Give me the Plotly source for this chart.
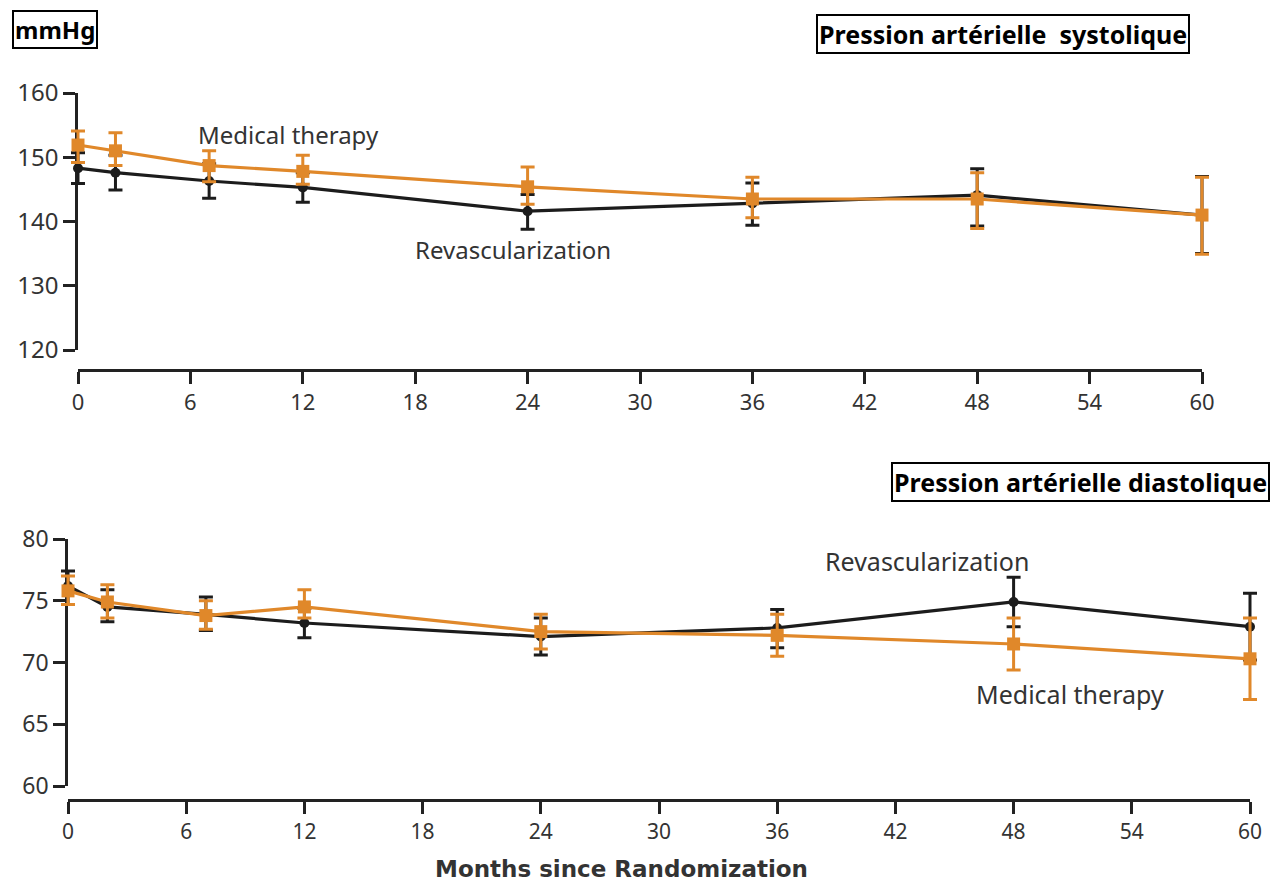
import plotly.graph_objects as go

W, H = 1285, 883

# ---------------- data ----------------
months = [0, 2, 7, 12, 24, 36, 48, 60]

# Systolic (mmHg)
sys_revasc = [148.3, 147.6, 146.3, 145.3, 141.6, 142.8, 144.1, 141.0]
sys_revasc_hi = [150.7, 150.3, 149.0, 147.6, 144.2, 146.0, 148.2, 147.0]
sys_revasc_lo = [145.9, 144.9, 143.6, 143.0, 138.8, 139.4, 139.3, 135.0]

sys_med = [151.9, 151.0, 148.7, 147.8, 145.4, 143.5, 143.5, 141.0]
sys_med_hi = [154.1, 153.8, 151.0, 150.3, 148.5, 146.9, 147.6, 146.9]
sys_med_lo = [149.2, 148.7, 146.2, 145.8, 142.7, 140.6, 138.9, 134.9]

# Diastolic (mmHg)
dia_revasc = [76.2, 74.5, 73.9, 73.2, 72.1, 72.8, 74.9, 72.9]
dia_revasc_hi = [77.4, 75.9, 75.3, 74.4, 73.6, 74.3, 76.9, 75.6]
dia_revasc_lo = [74.7, 73.3, 72.6, 72.0, 70.6, 71.2, 72.9, 70.2]

dia_med = [75.8, 74.9, 73.8, 74.5, 72.5, 72.2, 71.5, 70.3]
dia_med_hi = [77.0, 76.3, 75.0, 75.9, 73.9, 73.9, 73.6, 73.6]
dia_med_lo = [74.7, 73.6, 72.7, 73.6, 71.1, 70.5, 69.4, 67.0]

x_ticks = [0, 6, 12, 18, 24, 30, 36, 42, 48, 54, 60]
sys_ticks = [120, 130, 140, 150, 160]
dia_ticks = [60, 65, 70, 75, 80]

BLACK = "#1c1c1c"
ORANGE = "#E0882A"
AXIS = "#222222"
TXT = "#333333"
FONT = "Noto Sans"


def px(x):
    return x / W


def py(y):
    return 1 - y / H


def err(vals, hi, lo):
    return ([h - v for h, v in zip(hi, vals)], [v - l for v, l in zip(vals, lo)])


# panel geometry in pixels
TOP = dict(xl=78, xr=1202, yt=93, yb=350, xline=370, yr=(120, 160))
BOT = dict(xl=68, xr=1250, yt=539, yb=786, xline=800, yr=(60, 80))
PAD = 24  # extra pixels around data subplot so error bars are not clipped


def data_axes(g):
    sx = (g["xr"] - g["xl"]) / 60.0
    sy = (g["yb"] - g["yt"]) / (g["yr"][1] - g["yr"][0])
    xdom = [px(g["xl"] - PAD), px(g["xr"] + PAD)]
    xrng = [0 - PAD / sx, 60 + PAD / sx]
    ydom = [py(g["yb"] + PAD), py(g["yt"] - PAD)]
    yrng = [g["yr"][0] - PAD / sy, g["yr"][1] + PAD / sy]
    return xdom, xrng, ydom, yrng


fig = go.Figure()

# placeholder traces so the visible axes are drawn
fig.add_trace(go.Scatter(x=[None], y=[None], xaxis="x", yaxis="y", showlegend=False))
fig.add_trace(go.Scatter(x=[None], y=[None], xaxis="x2", yaxis="y2", showlegend=False))


def add_series(xa, ya, vals, hi, lo, color, symbol, size):
    up, dn = err(vals, hi, lo)
    fig.add_trace(go.Scatter(
        x=months, y=vals, xaxis=xa, yaxis=ya, mode="lines+markers",
        line=dict(color=color, width=3.2),
        marker=dict(color=color, symbol=symbol, size=size),
        error_y=dict(type="data", symmetric=False, array=up, arrayminus=dn,
                     color=color, thickness=3, width=7),
        showlegend=False, cliponaxis=False,
    ))


add_series("x3", "y3", sys_revasc, sys_revasc_hi, sys_revasc_lo, BLACK, "circle", 10)
add_series("x3", "y3", sys_med, sys_med_hi, sys_med_lo, ORANGE, "square", 13)
add_series("x4", "y4", dia_revasc, dia_revasc_hi, dia_revasc_lo, BLACK, "circle", 10)
add_series("x4", "y4", dia_med, dia_med_hi, dia_med_lo, ORANGE, "square", 13)

common_axis = dict(showgrid=False, zeroline=False, showline=True, linecolor=AXIS,
                   linewidth=2.5, ticks="outside", ticklen=12, tickwidth=2.5,
                   tickcolor=AXIS, automargin=False, fixedrange=True)
hidden = dict(visible=False, showgrid=False, zeroline=False, automargin=False,
              fixedrange=True)

t_xd, t_xr, t_yd, t_yr = data_axes(TOP)
b_xd, b_xr, b_yd, b_yr = data_axes(BOT)

fig.update_layout(
    width=W, height=H, autosize=False,
    margin=dict(l=0, r=0, t=0, b=0),
    paper_bgcolor="white", plot_bgcolor="rgba(0,0,0,0)",
    xaxis=dict(domain=[px(TOP["xl"]), px(TOP["xr"])], range=[0, 60], anchor="free",
               position=py(TOP["xline"]), tickvals=x_ticks,
               tickfont=dict(family=FONT, size=22, color=TXT), **common_axis),
    yaxis=dict(domain=[py(TOP["yb"]), py(TOP["yt"])], range=list(TOP["yr"]), anchor="x",
               tickvals=sys_ticks,
               tickfont=dict(family=FONT, size=24, color=TXT), **common_axis),
    xaxis2=dict(domain=[px(BOT["xl"]), px(BOT["xr"])], range=[0, 60], anchor="free",
                position=py(BOT["xline"]), tickvals=x_ticks,
                tickfont=dict(family=FONT, size=21, color=TXT), **common_axis),
    yaxis2=dict(domain=[py(BOT["yb"]), py(BOT["yt"])], range=list(BOT["yr"]), anchor="x2",
                tickvals=dia_ticks,
                tickfont=dict(family=FONT, size=23, color=TXT), **common_axis),
    xaxis3=dict(domain=t_xd, range=t_xr, anchor="y3", **hidden),
    yaxis3=dict(domain=t_yd, range=t_yr, anchor="x3", **hidden),
    xaxis4=dict(domain=b_xd, range=b_xr, anchor="y4", **hidden),
    yaxis4=dict(domain=b_yd, range=b_yr, anchor="x4", **hidden),
)

annotations = [
    dict(text="<b>mmHg</b>", x=px(54.5), y=py(30), font=dict(size=24, color="black"),
         bordercolor="black", borderwidth=2, borderpad=1, bgcolor="white"),
    dict(text="<b>Pression artérielle\u00a0 systolique</b>", x=px(1003), y=py(34.5),
         font=dict(size=25, color="black"), bordercolor="black", borderwidth=2,
         borderpad=1, bgcolor="white"),
    dict(text="<b>Pression artérielle diastolique</b>", x=px(1080), y=py(482),
         font=dict(size=25, color="black"), bordercolor="black", borderwidth=2,
         borderpad=1, bgcolor="white"),
    dict(text="Medical therapy", x=px(288), y=py(135), font=dict(size=24, color=TXT)),
    dict(text="Revascularization", x=px(513), y=py(249), font=dict(size=24, color=TXT)),
    dict(text="Revascularization", x=px(927), y=py(561), font=dict(size=25, color=TXT)),
    dict(text="Medical therapy", x=px(1070), y=py(694), font=dict(size=25, color=TXT)),
]
for a in annotations:
    a.update(xref="paper", yref="paper", showarrow=False, xanchor="center",
             yanchor="middle")
    a["font"]["family"] = FONT

annotations.append(dict(
    text="<b>Months since Randomization</b>", x=px(621), y=0, xref="paper", yref="paper",
    showarrow=False, xanchor="center", yanchor="bottom", borderpad=0,
    font=dict(family="DejaVu Sans", size=23, color=TXT)))
fig.update_layout(annotations=annotations)

fig.write_html("out.html")
